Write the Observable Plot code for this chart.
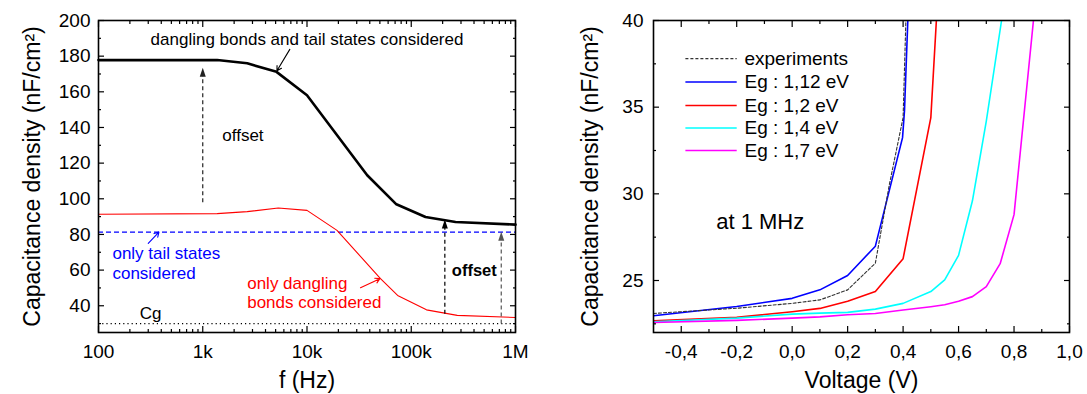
<!DOCTYPE html>
<html>
<head>
<meta charset="utf-8">
<script src="https://cdn.jsdelivr.net/npm/d3@7"></script>
<script src="https://cdn.jsdelivr.net/npm/@observablehq/plot@0.6"></script>
<style>
  html, body { margin: 0; padding: 0; background: #fff; }
  #wrap { position: relative; width: 1087px; height: 394px; overflow: hidden; font-family: "Liberation Sans", Arial, sans-serif; }
  #left { position: absolute; left: 0; top: 0; }
  #right { position: absolute; left: 545px; top: 0; }
</style>
</head>
<body>
<div id="wrap"><div id="left"></div><div id="right"></div></div>
<script>
// ---------- Left panel data: capacitance density vs frequency ----------
const freqBoth = [100, 1375, 2670, 5100, 10000, 37800, 72000, 137000, 266000, 1000000];
const capBoth  = [177.8, 177.8, 176.0, 171.2, 158.1, 113.2, 96.9, 89.8, 87.0, 85.5];
const freqDangling = [100, 1375, 2670, 5300, 10000, 19400, 50700, 74000, 140000, 276000, 1000000];
const capDangling  = [91.3, 91.7, 92.8, 94.8, 93.5, 82.3, 55.2, 45.8, 37.7, 34.6, 33.4];
const capTailOnly = 81.3;
const capCg = 30;
const freqTicks = [100, 1000, 10000, 100000, 1000000];
const freqTickLabels = ["100", "1k", "10k", "100k", "1M"];
const capTicksLeft = [40, 60, 80, 100, 120, 140, 160, 180, 200];

// ---------- Right panel data: capacitance density vs voltage at 1 MHz ----------
const voltExp = [-0.5, -0.2, 0.0, 0.1, 0.2, 0.3, 0.35, 0.4, 0.41];
const capExp  = [23.1, 23.4, 23.68, 23.88, 24.46, 26.0, 30.5, 34.4, 40];
const volt112 = [-0.5, -0.2, 0.0, 0.1, 0.2, 0.3, 0.398, 0.405, 0.417];
const cap112  = [22.97, 23.5, 23.97, 24.46, 25.29, 26.98, 33.24, 34.8, 40];
const volt12 = [-0.5, -0.2, 0.0, 0.1, 0.2, 0.3, 0.4, 0.5, 0.52];
const cap12  = [22.67, 22.87, 23.2, 23.39, 23.8, 24.36, 26.26, 34.4, 40];
const volt14 = [-0.5, -0.2, 0.0, 0.1, 0.2, 0.3, 0.4, 0.5, 0.55, 0.6, 0.65, 0.7, 0.755];
const cap14  = [22.62, 22.83, 23.06, 23.12, 23.16, 23.35, 23.68, 24.36, 25.04, 26.45, 29.6, 34.2, 40];
const volt17 = [-0.5, -0.2, 0.0, 0.1, 0.2, 0.3, 0.4, 0.5, 0.55, 0.6, 0.65, 0.7, 0.75, 0.8, 0.87];
const cap17  = [22.58, 22.7, 22.83, 22.9, 23.02, 23.1, 23.3, 23.49, 23.6, 23.8, 24.07, 24.65, 25.97, 28.8, 40];
const seriesNames = ["experiments", "Eg : 1,12 eV", "Eg : 1,2 eV", "Eg : 1,4 eV", "Eg : 1,7 eV"];
const voltTicks = [-0.4, -0.2, 0.0, 0.2, 0.4, 0.6, 0.8, 1.0];
const capTicksRight = [25, 30, 35, 40];

// ---------- helpers ----------
const FONT = "Liberation Sans, Arial, Helvetica, sans-serif";
const zipXY = (xs, ys) => xs.map((x, i) => ({x, y: ys[i]}));
const headUp = {draw(ctx) { ctx.moveTo(0, 0); ctx.lineTo(3, 9); ctx.lineTo(-3, 9); ctx.closePath(); }};
const blank = () => "";

function frameTicksX(ticks, size) {
  return [
    Plot.axisX({ticks, tickSize: size, dy: -size, tickFormat: blank, label: null, strokeWidth: 1.2}),
    Plot.axisX({anchor: "top", ticks, tickSize: size, dy: size, tickFormat: blank, label: null, strokeWidth: 1.2})
  ];
}
function frameTicksY(ticks, size) {
  return [
    Plot.axisY({ticks, tickSize: size, dx: size, tickFormat: blank, label: null, strokeWidth: 1.2}),
    Plot.axisY({anchor: "right", ticks, tickSize: size, dx: -size, tickFormat: blank, label: null, strokeWidth: 1.2})
  ];
}

// ---------- Left plot ----------
const logMinor = [];
for (let e = 2; e < 6; e++) for (let m = 2; m <= 9; m++) logMinor.push(m * 10 ** e);
const capMinorLeft = d3.range(30, 200, 20);

const dataBoth = zipXY(freqBoth, capBoth);
const dataDangling = zipXY(freqDangling, capDangling);

const leftPlot = Plot.plot({
  width: 545, height: 394,
  marginLeft: 98, marginRight: 30, marginTop: 20, marginBottom: 62,
  x: {type: "log", domain: [100, 1e6]},
  y: {domain: [25, 200]},
  style: {fontFamily: FONT, fontSize: "19px", color: "#000", background: "#fff"},
  marks: [
    Plot.ruleY([capTailOnly], {stroke: "#0000ff", strokeWidth: 1.1, strokeDasharray: "5,3"}),
    Plot.ruleY([capCg], {stroke: "#000", strokeWidth: 1.1, strokeDasharray: "1.2,3"}),
    Plot.line(dataDangling, {x: "x", y: "y", stroke: "#ff0000", strokeWidth: 1.1}),
    Plot.line(dataBoth, {x: "x", y: "y", stroke: "#000", strokeWidth: 2.6}),
    // offset arrows (dashed shafts with solid heads)
    Plot.link([{x: 1000, y1: 98, y2: 172}], {x1: "x", x2: "x", y1: "y1", y2: "y2", stroke: "#222", strokeWidth: 1.2, strokeDasharray: "4,3"}),
    Plot.dot([{x: 1000, y: 173.5}], {x: "x", y: "y", symbol: headUp, fill: "#222", stroke: "none"}),
    Plot.link([{x: 210000, y1: 35.5, y2: 87}], {x1: "x", x2: "x", y1: "y1", y2: "y2", stroke: "#000", strokeWidth: 1.2, strokeDasharray: "4,3"}),
    Plot.dot([{x: 210000, y: 88.4}], {x: "x", y: "y", symbol: headUp, fill: "#000", stroke: "none"}),
    Plot.link([{x: 730000, y1: 30, y2: 80}], {x1: "x", x2: "x", y1: "y1", y2: "y2", stroke: "#555", strokeWidth: 1.2, strokeDasharray: "4,3"}),
    Plot.dot([{x: 730000, y: 81.5}], {x: "x", y: "y", symbol: headUp, fill: "#555", stroke: "none"}),
    // pointer arrows
    Plot.arrow([{x1: 6840, y1: 183.8, x2: 5150, y2: 171.8}], {x1: "x1", y1: "y1", x2: "x2", y2: "y2", stroke: "#000", strokeWidth: 1.1, headLength: 7}),
    Plot.arrow([{x1: 300, y1: 75.0, x2: 380, y2: 81.3}], {x1: "x1", y1: "y1", x2: "x2", y2: "y2", stroke: "#0000ff", strokeWidth: 1.1, headLength: 7}),
    Plot.arrow([{x1: 32600, y1: 50.1, x2: 50000, y2: 55.2}], {x1: "x1", y1: "y1", x2: "x2", y2: "y2", stroke: "#ff0000", strokeWidth: 1.1, headLength: 7}),
    // annotations
    Plot.text([{x: 10000, y: 189.2, t: "dangling bonds and tail states considered"}], {x: "x", y: "y", text: "t", fontSize: 17, fill: "#000"}),
    Plot.text([{x: 1540, y: 135.3, t: "offset"}], {x: "x", y: "y", text: "t", textAnchor: "start", fontSize: 17, fill: "#000"}),
    Plot.text([{x: 245000, y: 59.8, t: "offset"}], {x: "x", y: "y", text: "t", textAnchor: "start", fontSize: 16.5, fontWeight: "bold", fill: "#000"}),
    Plot.text([{x: 136, y: 69.2, t: "only tail states"}, {x: 136, y: 58.0, t: "considered"}], {x: "x", y: "y", text: "t", textAnchor: "start", fontSize: 17, fill: "#0000ff"}),
    Plot.text([{x: 2670, y: 52.7, t: "only dangling"}, {x: 2670, y: 42.0, t: "bonds considered"}], {x: "x", y: "y", text: "t", textAnchor: "start", fontSize: 17, fill: "#ff0000"}),
    Plot.text([{x: 316, y: 35.8, t: "Cg"}], {x: "x", y: "y", text: "t", fontSize: 17, fill: "#000"}),
    // axes
    ...frameTicksX(freqTicks, 6),
    ...frameTicksX(logMinor, 3),
    ...frameTicksY(capTicksLeft, 6),
    ...frameTicksY(capMinorLeft, 3),
    Plot.axisX({ticks: freqTicks, tickFormat: (d) => freqTickLabels[freqTicks.indexOf(d)], tickSize: 0, tickPadding: 12, label: null, fontSize: 19}),
    Plot.axisY({ticks: capTicksLeft, tickSize: 0, tickPadding: 8, label: null, fontSize: 19}),
    Plot.text(["Capacitance density (nF/cm²)"], {frameAnchor: "left", dx: -66, rotate: -90, textAnchor: "middle", lineAnchor: "middle", fontSize: 23, fill: "#000"}),
    Plot.text(["f (Hz)"], {frameAnchor: "bottom", dy: 48, textAnchor: "middle", lineAnchor: "middle", fontSize: 23, fill: "#000"}),
    Plot.frame({stroke: "#000", strokeWidth: 1.6})
  ]
});
document.getElementById("left").appendChild(leftPlot);

// ---------- Right plot ----------
const voltMinor = [-0.3, -0.1, 0.1, 0.3, 0.5, 0.7, 0.9];
const capMinorRight = [22.5, 27.5, 32.5, 37.5];
const series = [
  {name: seriesNames[0], xs: voltExp, ys: capExp, color: "#333", dash: "3,2", w: 1.1},
  {name: seriesNames[1], xs: volt112, ys: cap112, color: "#0000ff", dash: null, w: 1.6},
  {name: seriesNames[2], xs: volt12, ys: cap12, color: "#ff0000", dash: null, w: 1.6},
  {name: seriesNames[3], xs: volt14, ys: cap14, color: "#00ffff", dash: null, w: 1.6},
  {name: seriesNames[4], xs: volt17, ys: cap17, color: "#ff00ff", dash: null, w: 1.6}
];
const legendRows = [37.8, 36.45, 35.1, 33.8, 32.5];
const commaFmt = (d) => d.toFixed(1).replace(".", ",");

const rightMarks = [];
// draw experiments after others so the dashed line stays visible
[1, 2, 3, 4, 0].forEach((k) => {
  const s = series[k];
  rightMarks.push(Plot.line(zipXY(s.xs, s.ys), {x: "x", y: "y", stroke: s.color, strokeWidth: s.w, strokeDasharray: s.dash, clip: true}));
});
series.forEach((s, i) => {
  rightMarks.push(Plot.link([{x1: -0.385, x2: -0.2, y: legendRows[i]}], {x1: "x1", x2: "x2", y1: "y", y2: "y", stroke: s.color, strokeWidth: s.w, strokeDasharray: s.dash}));
  rightMarks.push(Plot.text([{x: -0.172, y: legendRows[i], t: s.name}], {x: "x", y: "y", text: "t", textAnchor: "start", fontSize: 19, fill: "#000"}));
});

const rightPlot = Plot.plot({
  width: 542, height: 394,
  marginLeft: 108, marginRight: 18, marginTop: 20, marginBottom: 62,
  x: {domain: [-0.5, 1.0]},
  y: {domain: [22, 40]},
  style: {fontFamily: FONT, fontSize: "19px", color: "#000", background: "#fff"},
  marks: [
    ...rightMarks,
    Plot.text([{x: -0.274, y: 28.4, t: "at 1 MHz"}], {x: "x", y: "y", text: "t", textAnchor: "start", fontSize: 22, fill: "#000"}),
    ...frameTicksX(voltTicks, 6),
    ...frameTicksX(voltMinor, 3),
    ...frameTicksY(capTicksRight, 6),
    ...frameTicksY(capMinorRight, 3),
    Plot.axisX({ticks: voltTicks, tickFormat: commaFmt, tickSize: 0, tickPadding: 12, label: null, fontSize: 19}),
    Plot.axisY({ticks: capTicksRight, tickSize: 0, tickPadding: 10, label: null, fontSize: 19}),
    Plot.text(["Capacitance density (nF/cm²)"], {frameAnchor: "left", dx: -63, rotate: -90, textAnchor: "middle", lineAnchor: "middle", fontSize: 23, fill: "#000"}),
    Plot.text(["Voltage (V)"], {frameAnchor: "bottom", dy: 48, textAnchor: "middle", lineAnchor: "middle", fontSize: 23, fill: "#000"}),
    Plot.frame({stroke: "#000", strokeWidth: 1.6})
  ]
});
document.getElementById("right").appendChild(rightPlot);
</script>
</body>
</html>
